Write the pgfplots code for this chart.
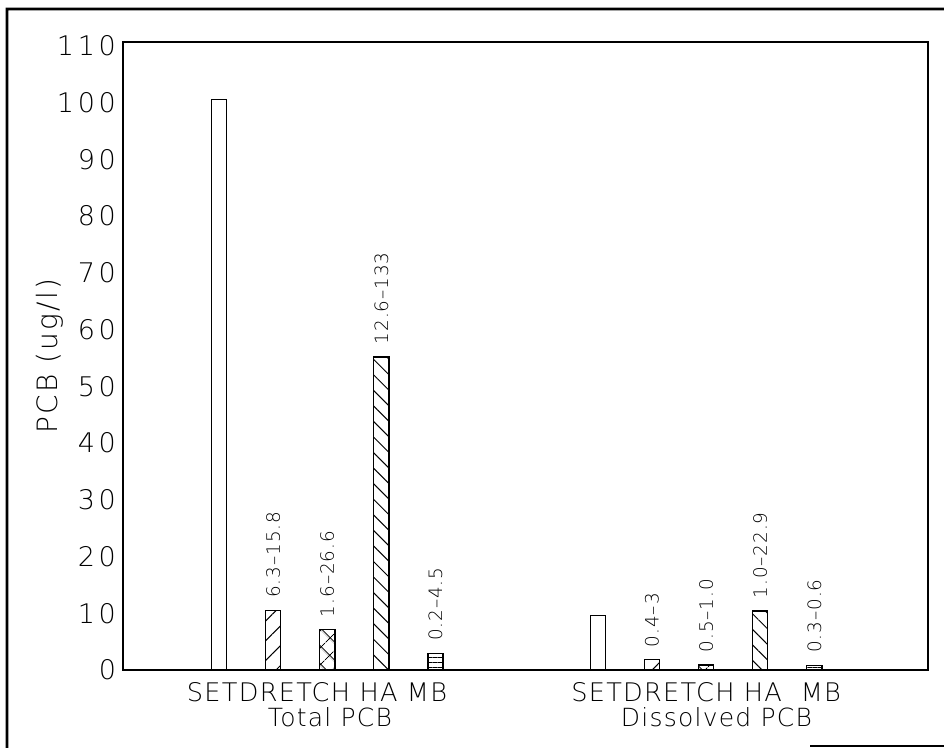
\documentclass[border=0pt]{standalone}
\usepackage{fontspec}
\setmainfont{DejaVu Sans}[UprightFont=* ExtraLight, LetterSpace=5]
\usepackage{pgfplots}
\usepackage{pgfplotstable}
\pgfplotsset{compat=1.18}
\usetikzlibrary{patterns.meta}

\pgfplotstableread{
x y lab
1 100.6 none
8 9.6 none
}\setdata
\pgfplotstableread{
x y lab
2 10.5 6.3--15.8
9 1.8 0.4--3
}\drdata
\pgfplotstableread{
x y lab
3 7.1 1.6--26.6
10 0.9 0.5--1.0
}\etchdata
\pgfplotstableread{
x y lab
4 55.2 12.6--133
11 10.4 1.0--22.9
}\hadata
\pgfplotstableread{
x y lab
5 2.9 0.2--4.5
12 0.8 0.3--0.6
}\mbdata

\begin{document}
\begin{tikzpicture}
\begin{axis}[
  scale only axis, width=402.5pt, height=314pt,
  xmin=-0.774, xmax=14.1, ymin=0, ymax=110.7,
  axis line style={line width=0.6pt},
  major tick length=0pt,
  /pgf/number format/assume math mode=true,
  ytick={0,10,...,110},
  yticklabel style={font=\fontsize{13.5}{15}\selectfont\addfontfeatures{LetterSpace=14}},
  xtick={2.81,10.0},
  xticklabels={SETDRETCH HA MB, SETDRETCH HA\ \ MB},
  x tick label style={font=\fontsize{12.8}{15}\selectfont, anchor=base, yshift=-16pt},
  extra x ticks={3.05,10.19},
  extra x tick labels={Total PCB, Dissolved PCB},
  extra x tick style={x tick label style={font=\fontsize{12.5}{15}\selectfont, yshift=-12.5pt}},
  ylabel={PCB (ug/l)},
  ylabel style={font=\fontsize{14}{15}\selectfont\addfontfeatures{LetterSpace=8}, at={(axis description cs:-0.0907,0.5)}, anchor=center},
  bar width=0.28,
  every axis plot/.append style={line width=0.7pt, draw=black},
  nodes near coords style={font=\fontsize{9.2}{10}\selectfont, rotate=90, anchor=west, inner xsep=6pt},
]
\addplot[ybar, fill=white] table[x=x,y=y] {\setdata};
\addplot[ybar, pattern={Lines[angle=45,distance=7pt,line width=0.5pt]},
  point meta=explicit symbolic, nodes near coords] table[x=x,y=y,meta=lab] {\drdata};
\addplot[ybar, pattern={Hatch[angle=45,distance=6.5pt,line width=0.5pt]},
  point meta=explicit symbolic, nodes near coords] table[x=x,y=y,meta=lab] {\etchdata};
\addplot[ybar, pattern={Lines[angle=-45,distance=5.5pt,line width=0.5pt]},
  point meta=explicit symbolic, nodes near coords] table[x=x,y=y,meta=lab] {\hadata};
\addplot[ybar, pattern={Lines[angle=0,distance=2.5pt,line width=0.5pt]},
  point meta=explicit symbolic, nodes near coords] table[x=x,y=y,meta=lab] {\mbdata};
\end{axis}
\coordinate (SW) at (current axis.south west);
\coordinate (NE) at (current axis.north east);
\draw[line width=1.4pt] ([shift={(-58pt,-39pt)}]SW) -- ([shift={(-58pt,330.5pt)}]SW) -- ([shift={(8pt,16.5pt)}]NE);
\draw[line width=0.6pt] ([shift={(343.5pt,-38pt)}]SW) -- ([shift={(410.5pt,-38pt)}]SW);
\pgfresetboundingbox
\useasboundingbox ([shift={(-61.5pt,-39pt)}]SW) rectangle ([shift={(8pt,21pt)}]NE);
\end{tikzpicture}
\end{document}
